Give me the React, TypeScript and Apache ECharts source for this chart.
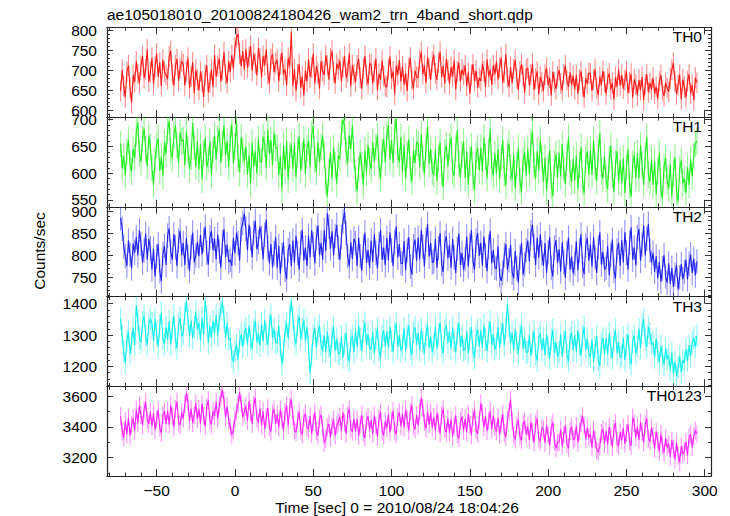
import React, { useEffect, useRef } from 'react';
import * as echarts from 'echarts';

// 1-s bins of the light curve, first bin at t = -73 s
const T_START = -73;
const BIN_SEC = 1;

const TH0_RATE = [
  648, 701, 660, 632, 695, 712, 655, 618, 688, 670,
  722, 690, 668, 711, 735, 680, 702, 752, 671, 695,
  731, 665, 708, 742, 683, 719, 660, 726, 697, 688,
  678, 735, 748, 690, 661, 712, 728, 673, 705, 722,
  715, 662, 698, 731, 655, 684, 720, 642, 701, 676,
  650, 697, 671, 633, 688, 712, 645, 669, 702, 658,
  738, 684, 711, 729, 672, 700, 745, 690, 668, 722,
  695, 738, 704, 756, 782, 790, 741, 710, 748, 702,
  752, 706, 733, 761, 698, 740, 718, 687, 755, 729,
  681, 736, 712, 752, 690, 667, 728, 741, 695, 718,
  726, 672, 715, 744, 689, 702, 662, 731, 710, 795,
  661, 703, 648, 690, 715, 656, 684, 637, 699, 672,
  727, 683, 706, 741, 667, 710, 692, 654, 722, 698,
  688, 737, 712, 676, 729, 748, 695, 667, 716, 703,
  724, 671, 708, 735, 681, 695, 742, 660, 713, 690,
  670, 712, 728, 681, 653, 704, 736, 688, 665, 717,
  713, 667, 698, 729, 650, 691, 676, 724, 685, 661,
  658, 702, 734, 679, 697, 640, 711, 688, 725, 672,
  710, 664, 692, 648, 706, 731, 675, 654, 699, 683,
  681, 726, 745, 690, 712, 668, 733, 704, 676, 721,
  738, 692, 676, 719, 746, 683, 710, 667, 728, 700,
  666, 708, 684, 725, 651, 697, 719, 672, 702, 688,
  712, 660, 694, 641, 688, 715, 672, 699, 657, 680,
  673, 716, 697, 658, 727, 684, 701, 664, 712, 690,
  722, 677, 706, 731, 668, 694, 740, 681, 659, 708,
  668, 704, 725, 679, 651, 697, 715, 686, 643, 702,
  705, 662, 688, 716, 650, 679, 697, 640, 684, 670,
  648, 689, 705, 662, 681, 637, 696, 670, 653, 684,
  701, 667, 649, 690, 712, 675, 658, 694, 663, 686,
  652, 688, 641, 676, 697, 659, 632, 680, 666, 693,
  691, 648, 677, 702, 655, 638, 684, 663, 698, 671,
  640, 679, 692, 652, 668, 627, 683, 659, 701, 662,
  688, 654, 675, 698, 642, 670, 691, 631, 677, 664,
  637, 676, 650, 683, 625, 664, 690, 645, 668, 652,
  681, 641, 659, 629, 672, 688, 650, 635, 669, 655,
  646, 680, 701, 718, 672, 640, 663, 689, 627, 676,
  658, 631, 672, 690, 642, 663, 625, 681, 669,
];

const TH1_RATE = [
  655, 609, 632, 596, 640, 662, 617, 603, 645, 628,
  677, 694, 638, 621, 664, 683, 645, 612, 670, 649,
  610, 578, 626, 652, 665, 604, 631, 595, 657, 636,
  680, 698, 641, 628, 671, 689, 652, 618, 676, 660,
  662, 615, 678, 643, 608, 630, 694, 651, 612, 659,
  607, 654, 588, 637, 666, 611, 625, 659, 596, 642,
  671, 626, 664, 682, 619, 655, 690, 633, 660, 612,
  663, 692, 618, 650, 697, 628, 601, 668, 641, 622,
  650, 597, 633, 580, 658, 612, 641, 599, 664, 622,
  620, 668, 655, 611, 681, 636, 662, 614, 676, 647,
  648, 596, 631, 570, 652, 607, 660, 588, 634, 653,
  608, 657, 592, 640, 669, 605, 633, 664, 598, 647,
  661, 612, 672, 688, 625, 603, 658, 621, 649, 670,
  635, 585, 556, 602, 640, 590, 648, 615, 580, 633,
  627, 675, 700, 688, 640, 618, 671, 645, 690, 632,
  590, 566, 607, 638, 615, 578, 643, 600, 652, 622,
  607, 658, 622, 649, 671, 612, 590, 641, 664, 620,
  671, 690, 625, 662, 618, 677, 702, 636, 620, 668,
  602, 651, 590, 634, 663, 607, 584, 642, 619, 658,
  655, 611, 673, 626, 598, 650, 688, 617, 645, 603,
  597, 644, 585, 628, 658, 601, 574, 639, 652, 612,
  650, 667, 604, 595, 646, 681, 617, 592, 635, 659,
  591, 640, 578, 623, 650, 594, 568, 632, 647, 605,
  648, 603, 666, 631, 590, 640, 683, 611, 596, 637,
  599, 646, 588, 628, 662, 601, 576, 638, 655, 610,
  588, 634, 572, 615, 648, 585, 565, 624, 640, 596,
  646, 598, 657, 678, 612, 590, 641, 605, 663, 628,
  583, 629, 566, 610, 643, 578, 557, 618, 635, 591,
  638, 594, 655, 607, 580, 631, 668, 600, 584, 627,
  586, 633, 571, 616, 649, 583, 563, 625, 641, 597,
  644, 597, 662, 612, 585, 638, 675, 603, 590, 632,
  589, 570, 626, 652, 597, 565, 618, 641, 583, 624,
  581, 628, 563, 611, 645, 577, 556, 617, 634, 590,
  637, 590, 653, 615, 578, 632, 668, 597, 584, 626,
  578, 622, 560, 604, 638, 571, 552, 612, 629, 585,
  571, 617, 556, 600, 630, 566, 548, 608, 624, 581,
  590, 563, 612, 578, 626, 594, 633, 655, 660,
];

const TH2_RATE = [
  885, 861, 820, 798, 776, 834, 802, 770, 827, 806,
  842, 800, 858, 826, 784, 811, 850, 790, 838, 816,
  768, 815, 752, 798, 826, 764, 741, 803, 822, 778,
  845, 862, 808, 790, 849, 818, 776, 834, 856, 801,
  828, 778, 840, 796, 765, 819, 852, 784, 800, 831,
  798, 847, 802, 835, 866, 806, 779, 841, 856, 812,
  838, 791, 847, 809, 772, 830, 860, 796, 825, 785,
  790, 776, 840, 805, 852, 828, 788, 860, 874, 895,
  861, 812, 870, 838, 796, 852, 879, 814, 830, 866,
  840, 791, 847, 882, 818, 782, 826, 773, 805, 842,
  772, 822, 758, 801, 830, 766, 745, 812, 826, 775,
  834, 783, 845, 806, 768, 829, 859, 788, 818, 776,
  845, 796, 858, 825, 782, 840, 868, 801, 829, 790,
  858, 810, 896, 866, 815, 855, 800, 845, 870, 818,
  790, 842, 878, 900, 850, 798, 775, 830, 792, 838,
  828, 776, 840, 798, 765, 820, 852, 783, 812, 771,
  834, 785, 848, 806, 770, 826, 858, 790, 818, 777,
  840, 789, 852, 812, 776, 831, 866, 795, 826, 782,
  781, 833, 766, 812, 842, 774, 756, 821, 836, 788,
  841, 790, 858, 820, 775, 836, 872, 797, 828, 784,
  786, 838, 772, 817, 851, 780, 762, 829, 844, 793,
  824, 771, 838, 795, 760, 815, 850, 778, 806, 767,
  791, 843, 775, 822, 858, 787, 768, 834, 851, 799,
  829, 777, 843, 800, 764, 820, 856, 782, 812, 772,
  770, 821, 755, 742, 760, 801, 826, 768, 789, 825,
  761, 748, 810, 770, 738, 797, 829, 756, 779, 812,
  834, 786, 852, 870, 822, 778, 840, 795, 848, 806,
  776, 828, 760, 807, 842, 771, 752, 818, 835, 783,
  814, 763, 830, 784, 749, 806, 841, 767, 797, 758,
  781, 832, 766, 812, 848, 776, 757, 823, 840, 788,
  825, 774, 842, 795, 760, 818, 853, 779, 808, 768,
  771, 822, 755, 801, 836, 765, 747, 812, 829, 776,
  835, 784, 853, 806, 768, 829, 864, 790, 818, 777,
  842, 860, 788, 825, 868, 800, 838, 872, 812, 784,
  806, 762, 798, 748, 785, 740, 770, 801, 752, 737,
  782, 735, 771, 728, 757, 778, 722, 750, 780, 746,
  762, 790, 745, 781, 802, 760, 793, 754, 786,
];

const TH3_RATE = [
  1352, 1296, 1248, 1210, 1282, 1311, 1240, 1275, 1324, 1268,
  1395, 1348, 1290, 1276, 1340, 1362, 1298, 1268, 1335, 1352,
  1338, 1280, 1352, 1305, 1262, 1330, 1372, 1288, 1270, 1326,
  1284, 1345, 1270, 1322, 1362, 1286, 1258, 1335, 1355, 1296,
  1305, 1368, 1410, 1352, 1295, 1346, 1290, 1325, 1374, 1318,
  1340, 1282, 1355, 1300, 1412, 1360, 1274, 1328, 1292, 1345,
  1305, 1364, 1298, 1350, 1382, 1405, 1356, 1290, 1338, 1286,
  1290, 1232, 1215, 1248, 1270, 1222, 1280, 1302, 1262, 1306,
  1322, 1270, 1330, 1284, 1255, 1318, 1345, 1276, 1305, 1266,
  1336, 1280, 1348, 1302, 1268, 1333, 1365, 1290, 1320, 1275,
  1276, 1330, 1262, 1205, 1250, 1312, 1338, 1290, 1362, 1410,
  1355, 1296, 1272, 1332, 1360, 1288, 1320, 1348, 1280, 1326,
  1262, 1178, 1235, 1300, 1322, 1258, 1310, 1330, 1268, 1248,
  1300, 1245, 1310, 1262, 1232, 1296, 1326, 1250, 1288, 1240,
  1240, 1295, 1228, 1272, 1306, 1236, 1215, 1282, 1298, 1246,
  1316, 1262, 1330, 1285, 1250, 1312, 1340, 1268, 1302, 1256,
  1255, 1310, 1240, 1288, 1322, 1250, 1228, 1296, 1315, 1262,
  1312, 1258, 1326, 1280, 1245, 1308, 1338, 1262, 1300, 1250,
  1265, 1322, 1250, 1298, 1332, 1258, 1236, 1310, 1325, 1270,
  1306, 1252, 1320, 1276, 1240, 1302, 1332, 1258, 1295, 1245,
  1270, 1328, 1256, 1302, 1340, 1265, 1242, 1315, 1332, 1276,
  1311, 1256, 1325, 1280, 1244, 1306, 1338, 1262, 1298, 1250,
  1255, 1312, 1240, 1288, 1325, 1248, 1226, 1298, 1318, 1262,
  1316, 1260, 1332, 1285, 1248, 1310, 1342, 1268, 1302, 1254,
  1270, 1326, 1258, 1305, 1338, 1266, 1325, 1400, 1330, 1275,
  1306, 1250, 1318, 1275, 1240, 1300, 1330, 1256, 1292, 1244,
  1246, 1300, 1232, 1278, 1312, 1240, 1218, 1290, 1306, 1252,
  1290, 1236, 1305, 1260, 1225, 1286, 1316, 1242, 1278, 1230,
  1245, 1302, 1230, 1278, 1314, 1238, 1216, 1290, 1308, 1250,
  1300, 1246, 1315, 1270, 1234, 1296, 1326, 1252, 1288, 1240,
  1230, 1286, 1214, 1262, 1296, 1222, 1200, 1272, 1290, 1236,
  1290, 1236, 1305, 1260, 1224, 1286, 1316, 1242, 1278, 1228,
  1235, 1292, 1220, 1268, 1302, 1228, 1206, 1280, 1298, 1240,
  1265, 1320, 1258, 1330, 1350, 1285, 1262, 1325, 1305, 1270,
  1276, 1228, 1290, 1246, 1212, 1265, 1232, 1205, 1258, 1222,
  1236, 1188, 1242, 1176, 1215, 1168, 1196, 1232, 1180, 1220,
  1210, 1255, 1218, 1268, 1232, 1276, 1290, 1262, 1298,
];

const TH0123_RATE = [
  3470, 3372, 3330, 3438, 3352, 3460, 3340, 3412, 3455, 3375,
  3512, 3425, 3540, 3478, 3410, 3515, 3562, 3445, 3420, 3498,
  3405, 3490, 3380, 3452, 3510, 3392, 3360, 3478, 3502, 3418,
  3505, 3415, 3540, 3470, 3398, 3518, 3565, 3430, 3412, 3495,
  3455, 3545, 3622, 3560, 3438, 3520, 3425, 3475, 3555, 3450,
  3518, 3420, 3552, 3472, 3402, 3530, 3575, 3440, 3415, 3505,
  3470, 3565, 3450, 3540, 3590, 3640, 3575, 3460, 3535, 3445,
  3398, 3350, 3380, 3452, 3500, 3548, 3625, 3552, 3465, 3500,
  3535, 3440, 3568, 3495, 3420, 3545, 3590, 3455, 3430, 3520,
  3410, 3502, 3385, 3462, 3525, 3398, 3370, 3488, 3515, 3420,
  3482, 3395, 3515, 3448, 3375, 3498, 3540, 3410, 3530, 3580,
  3470, 3380, 3365, 3442, 3500, 3378, 3350, 3460, 3488, 3398,
  3385, 3470, 3355, 3432, 3495, 3372, 3342, 3452, 3480, 3395,
  3295, 3322, 3398, 3420, 3330, 3405, 3448, 3342, 3410, 3430,
  3465, 3375, 3495, 3428, 3355, 3478, 3520, 3388, 3368, 3455,
  3370, 3452, 3340, 3415, 3478, 3358, 3330, 3440, 3468, 3380,
  3445, 3355, 3475, 3408, 3335, 3458, 3498, 3368, 3345, 3438,
  3392, 3482, 3365, 3440, 3505, 3380, 3352, 3468, 3495, 3405,
  3485, 3395, 3515, 3448, 3375, 3498, 3540, 3408, 3385, 3478,
  3410, 3502, 3590, 3525, 3430, 3390, 3500, 3415, 3495, 3395,
  3465, 3372, 3492, 3428, 3355, 3478, 3518, 3388, 3365, 3455,
  3362, 3450, 3338, 3410, 3475, 3352, 3325, 3438, 3465, 3375,
  3455, 3365, 3485, 3418, 3345, 3468, 3508, 3378, 3355, 3445,
  3555, 3490, 3395, 3470, 3372, 3440, 3505, 3385, 3475, 3400,
  3372, 3460, 3348, 3420, 3485, 3362, 3335, 3448, 3500, 3580,
  3440, 3345, 3318, 3410, 3448, 3335, 3312, 3420, 3438, 3350,
  3402, 3315, 3432, 3368, 3298, 3418, 3455, 3325, 3305, 3395,
  3382, 3295, 3410, 3348, 3278, 3395, 3430, 3305, 3260, 3298,
  3300, 3385, 3275, 3350, 3410, 3290, 3262, 3375, 3402, 3315,
  3325, 3408, 3298, 3370, 3425, 3470, 3410, 3318, 3395, 3330,
  3352, 3265, 3380, 3318, 3250, 3238, 3270, 3362, 3385, 3290,
  3372, 3285, 3402, 3338, 3268, 3388, 3425, 3295, 3275, 3365,
  3312, 3395, 3290, 3360, 3418, 3305, 3278, 3462, 3425, 3330,
  3402, 3315, 3432, 3368, 3298, 3418, 3455, 3325, 3305, 3395,
  3342, 3258, 3370, 3310, 3238, 3355, 3280, 3232, 3325, 3268,
  3290, 3205, 3312, 3258, 3188, 3298, 3215, 3170, 3275, 3222,
  3240, 3305, 3215, 3332, 3352, 3268, 3340, 3378, 3355,
];

// typical 1-sigma error of a 1-s bin in each band
const TH0_ERR = 26;
const TH1_ERR = 25;
const TH2_ERR = 28;
const TH3_ERR = 36;
const TH0123_ERR = 58;

const BAND_NAMES = ['TH0', 'TH1', 'TH2', 'TH3', 'TH0123'];
const X_TICKS = [-50, 0, 50, 100, 150, 200, 250, 300];
const Y_TICKS = [
  [600, 650, 700, 750, 800],
  [550, 600, 650, 700],
  [750, 800, 850, 900],
  [1200, 1300, 1400],
  [3200, 3400, 3600],
];

const TITLE = 'ae105018010_20100824180426_wam2_trn_4band_short.qdp';
const Y_TITLE = 'Counts/sec';
const X_TITLE = 'Time [sec] 0 = 2010/08/24 18:04:26';

const FONT = '"Liberation Sans", Arial, Helvetica, sans-serif';
const FS = 15.5;

function steps(a: number, b: number, s: number) {
  const r: number[] = [];
  for (let v = a; v <= b + 1e-9; v += s) r.push(Math.round(v * 1000) / 1000);
  return r;
}

const PANELS = [
  { rate: TH0_RATE, err: TH0_ERR, color: '#ff1a1a', min: 583, max: 807, minor: steps(590, 800, 10) },
  { rate: TH1_RATE, err: TH1_ERR, color: '#22ee22', min: 537, max: 705, minor: steps(540, 700, 10) },
  { rate: TH2_RATE, err: TH2_ERR, color: '#2222ee', min: 706, max: 911, minor: steps(710, 910, 10) },
  { rate: TH3_RATE, err: TH3_ERR, color: '#11eeee', min: 1136, max: 1423, minor: steps(1140, 1420, 20) },
  { rate: TH0123_RATE, err: TH0123_ERR, color: '#ff22ff', min: 3080, max: 3665, minor: steps(3100, 3600, 100) },
];

const X_MIN = -81.7;
const X_MAX = 304;
const X_MINOR = steps(-80, 300, 10);

const GRID_LEFT = 107;
const GRID_RIGHT = 19;
const GRID_TOP = 27.3;
const PANEL_H = 89.75;

export default function App() {
  const ref = useRef<HTMLDivElement>(null);
  useEffect(() => {
    if (!ref.current) return;
    const chart = echarts.init(ref.current, undefined, { renderer: 'svg' });
    const axisColor = '#222';
    const grids: any[] = [];
    const xAxes: any[] = [];
    const yAxes: any[] = [];
    const series: any[] = [];
    const graphic: any[] = [];
    const lineStyle = { color: axisColor, width: 1.2 };
    const tickStyle = { color: '#333', width: 1 };
    const fmtX = (v: number) => (v < 0 ? '\u2212' + Math.abs(v) : String(v));
    const fmtY = (v: number) => String(v);

    PANELS.forEach((p, i) => {
      const top = GRID_TOP + i * PANEL_H;
      grids.push({ left: GRID_LEFT, right: GRID_RIGHT, top, height: PANEL_H });
      const isLast = i === PANELS.length - 1;
      const xb = { type: 'value', gridIndex: i, min: X_MIN, max: X_MAX, splitLine: { show: false } };
      const mkX = (position: string, major: boolean, label: boolean) => ({
        ...xb,
        position,
        axisLine: { show: major, onZero: false, lineStyle },
        axisTick: { show: true, inside: true, length: major ? 7 : 3.5, customValues: major ? X_TICKS : X_MINOR, lineStyle: tickStyle },
        axisLabel: label
          ? { show: true, customValues: X_TICKS, formatter: fmtX, fontSize: FS, fontFamily: FONT, color: '#000', margin: 6 }
          : { show: false },
      });
      xAxes.push(mkX('bottom', true, isLast), mkX('bottom', false, false), mkX('top', true, false), mkX('top', false, false));

      const yb = { type: 'value', gridIndex: i, min: p.min, max: p.max, splitLine: { show: false } };
      const mkY = (position: string, major: boolean, label: boolean) => ({
        ...yb,
        position,
        axisLine: { show: major, onZero: false, lineStyle },
        axisTick: { show: true, inside: true, length: major ? 6 : 3, customValues: major ? Y_TICKS[i] : p.minor, lineStyle: tickStyle },
        axisLabel: label
          ? { show: true, customValues: Y_TICKS[i], formatter: fmtY, fontSize: FS, fontFamily: FONT, color: '#000', margin: 10 }
          : { show: false },
      });
      yAxes.push(mkY('left', true, true), mkY('left', false, false), mkY('right', true, false), mkY('right', false, false));

      const data = p.rate.map((v, k) => [T_START + k * BIN_SEC, v]);
      const err = p.err;
      const color = p.color;
      series.push({
        type: 'custom',
        xAxisIndex: i * 4,
        yAxisIndex: i * 4,
        clip: true,
        silent: true,
        z: 2,
        data,
        renderItem: (params: any, api: any) => {
          const t = api.value(0);
          const v = api.value(1);
          const a = api.coord([t, v - err]);
          const b = api.coord([t, v + err]);
          return {
            type: 'line',
            shape: { x1: a[0], y1: a[1], x2: b[0], y2: b[1] },
            style: { stroke: color, lineWidth: 1.1, opacity: 0.5 },
          };
        },
      });
      series.push({
        type: 'line',
        xAxisIndex: i * 4,
        yAxisIndex: i * 4,
        data,
        symbol: 'none',
        silent: true,
        z: 3,
        lineStyle: { color, width: 1.1 },
        itemStyle: { color },
      });

      graphic.push({
        type: 'text',
        x: 702,
        y: top + 9.5,
        z: 10,
        style: {
          text: BAND_NAMES[i],
          fill: '#000',
          font: `${FS}px ${FONT}`,
          textAlign: 'right',
          textVerticalAlign: 'middle',
          align: 'right',
          verticalAlign: 'middle',
        },
      });
    });

    graphic.push(
      {
        type: 'text',
        x: 107,
        y: 14,
        style: { text: TITLE, fill: '#000', font: `${FS}px ${FONT}`, textAlign: 'left', textVerticalAlign: 'middle', align: 'left', verticalAlign: 'middle' },
      },
      {
        type: 'text',
        x: 397,
        y: 507,
        style: { text: X_TITLE, fill: '#000', font: `${FS}px ${FONT}`, textAlign: 'center', textVerticalAlign: 'middle', align: 'center', verticalAlign: 'middle' },
      },
      {
        type: 'text',
        x: 39,
        y: 251,
        rotation: Math.PI / 2,
        style: { text: Y_TITLE, fill: '#000', font: `${FS}px ${FONT}`, textAlign: 'center', textVerticalAlign: 'middle', align: 'center', verticalAlign: 'middle' },
      }
    );

    chart.setOption({
      animation: false,
      backgroundColor: '#fff',
      grid: grids,
      xAxis: xAxes,
      yAxis: yAxes,
      series,
      graphic,
    });
    return () => chart.dispose();
  }, []);
  return <div ref={ref} style={{ position: 'fixed', left: 0, top: 0, width: 730, height: 516 }} />;
}
